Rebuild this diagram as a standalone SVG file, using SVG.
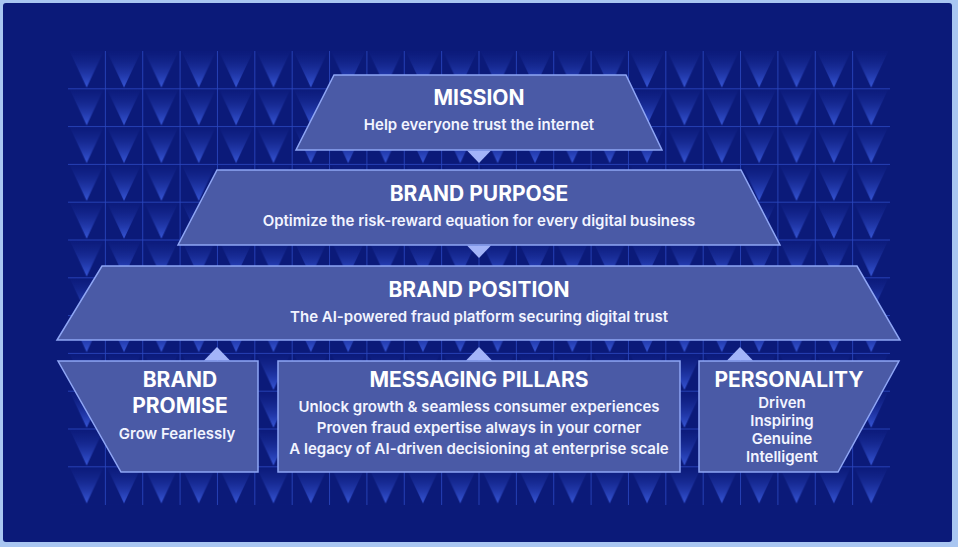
<svg xmlns="http://www.w3.org/2000/svg" width="958" height="547" viewBox="0 0 958 547">
<style>
.shape{fill:#4a5aa6;stroke:#8fa6f5;stroke-width:1.5;stroke-linejoin:miter}
.t{font-family:Inter,"Liberation Sans",sans-serif;font-weight:700;font-size:21px;fill:#ffffff;text-anchor:middle}
.s{font-family:Inter,"Liberation Sans",sans-serif;font-weight:600;font-size:15px;fill:#f2f4ff;text-anchor:middle}
.arrow{fill:#a3b4f8}
.grid{stroke:#2c48bf;stroke-width:1;fill:none;opacity:0.85}
</style>
<defs>
<linearGradient id="tri" x1="0" y1="0" x2="0" y2="1">
<stop offset="0" stop-color="#0d1c80" stop-opacity="0.3"/>
<stop offset="1" stop-color="#3757d8"/>
</linearGradient>
<pattern id="cells" patternUnits="userSpaceOnUse" x="68" y="51" width="37.36" height="37.8">
<polygon points="1.5,0 35.86,0 18.68,36.5" fill="url(#tri)"/>
</pattern>
</defs>
<rect x="0" y="0" width="958" height="547" fill="#a9c6f1"/>
<rect x="3" y="3" width="949" height="539" rx="3" fill="#0b1a79"/>
<g id="background-grid">
<rect x="68" y="51" width="822" height="454" fill="url(#cells)"/>
<path class="grid" d="M105.36 51V505M142.73 51V505M180.09 51V505M217.45 51V505M254.82 51V505M292.18 51V505M329.55 51V505M366.91 51V505M404.27 51V505M441.64 51V505M479 51V505M516.36 51V505M553.73 51V505M591.09 51V505M628.45 51V505M665.82 51V505M703.18 51V505M740.55 51V505M777.91 51V505M815.27 51V505M852.64 51V505M68 88.8H890M68 126.6H890M68 164.4H890M68 202.2H890M68 240H890M68 277.8H890M68 315.6H890M68 353.4H890M68 391.2H890M68 429H890M68 466.8H890"/>
</g>
<g id="connectors">
<polygon class="arrow" points="467,150.5 491,150.5 479,163"/>
<polygon class="arrow" points="467,245.5 491,245.5 479,258"/>
<polygon class="arrow" points="204,360.5 230,360.5 217,347"/>
<polygon class="arrow" points="466,360.5 492,360.5 479,347"/>
<polygon class="arrow" points="727,360.5 753,360.5 740,347"/>
</g>
<g id="mission">
<polygon class="shape" points="334,75 626,75 662,150 296,150"/>
<text class="t" x="479" y="105">MISSION</text>
<text class="s" x="479" y="130">Help everyone trust the internet</text>
</g>
<g id="brand-purpose">
<polygon class="shape" points="217,170 741,170 780,245 178,245"/>
<text class="t" x="479" y="201">BRAND PURPOSE</text>
<text class="s" x="479" y="226">Optimize the risk-reward equation for every digital business</text>
</g>
<g id="brand-position">
<polygon class="shape" points="102,266 857,266 900,340 57,340"/>
<text class="t" x="479" y="297">BRAND POSITION</text>
<text class="s" x="479" y="322">The AI-powered fraud platform securing digital trust</text>
</g>
<g id="brand-promise">
<polygon class="shape" points="58,361 258,361 258,472 121,472"/>
<text class="t" x="180" y="387">BRAND</text>
<text class="t" x="180" y="413">PROMISE</text>
<text class="s" x="177" y="439">Grow Fearlessly</text>
</g>
<g id="messaging-pillars">
<rect class="shape" x="278" y="361" width="402" height="111"/>
<text class="t" x="479" y="387">MESSAGING PILLARS</text>
<text class="s" x="479" y="412">Unlock growth &amp; seamless consumer experiences</text>
<text class="s" x="479" y="433">Proven fraud expertise always in your corner</text>
<text class="s" x="479" y="454">A legacy of AI-driven decisioning at enterprise scale</text>
</g>
<g id="personality">
<polygon class="shape" points="699,361 899,361 838,472 699,472"/>
<text class="t" x="789" y="387">PERSONALITY</text>
<text class="s" x="782" y="408">Driven</text>
<text class="s" x="782" y="426">Inspiring</text>
<text class="s" x="782" y="444">Genuine</text>
<text class="s" x="782" y="462">Intelligent</text>
</g>
</svg>
